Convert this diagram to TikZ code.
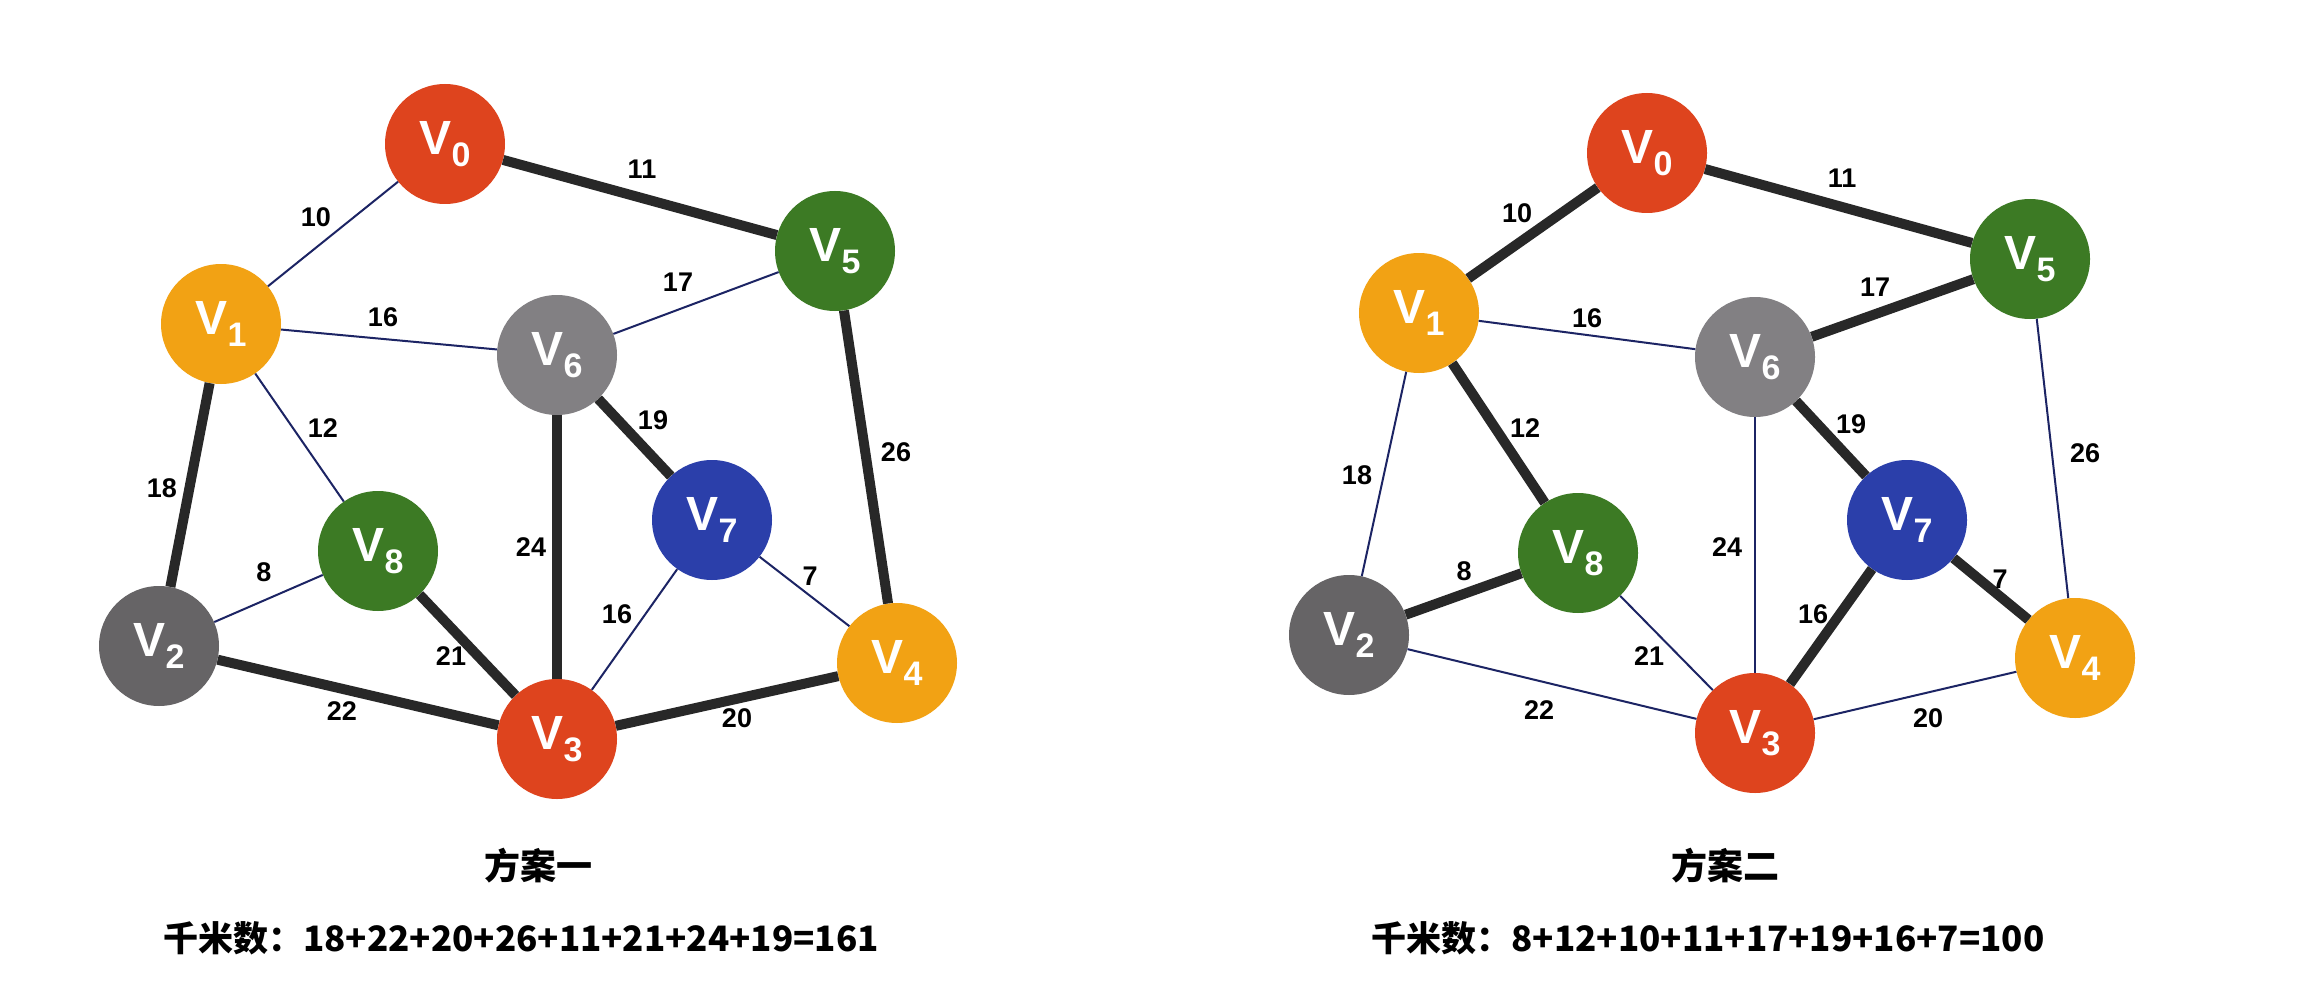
\documentclass[tikz,border=0pt]{standalone}
\usepackage{fontspec}
\setmainfont{Liberation Sans}
\newfontfamily\cjk{Noto Sans CJK SC}
\usepackage{tikz}

\definecolor{vred}{RGB}{222,68,30}
\definecolor{vorange}{RGB}{242,162,20}
\definecolor{vgreen}{RGB}{60,122,36}
\definecolor{vgray}{RGB}{130,128,131}
\definecolor{vdark}{RGB}{102,100,102}
\definecolor{vblue}{RGB}{43,63,170}
\definecolor{thinedge}{RGB}{28,36,100}
\definecolor{thickedge}{RGB}{40,40,40}

\newcommand{\vname}[1]{{\fontsize{48}{48}\selectfont V\raisebox{-12pt}{\fontsize{34}{34}\selectfont #1}}}

\tikzset{
    vertex/.style={circle, fill=#1, minimum size=120pt, inner sep=0pt, text=white, font=\bfseries},
    weight/.style={font=\bfseries\fontsize{27}{27}\selectfont},
    light/.style={draw=thinedge, line width=2pt},
    heavy/.style={draw=thickedge, line width=10pt},
    title/.style={font=\cjk\bfseries\fontsize{36}{36}\selectfont},
    sum/.style={font=\cjk\bfseries\fontsize{35}{35}\selectfont},
}

\begin{document}
\begin{tikzpicture}[x=1pt, y=-1pt]
    \useasboundingbox[fill=white] (0,0) rectangle (2313,995);

    % Scheme one
    \node[vertex=vred]    (L0) at (445,144) {\vname{0}};
    \node[vertex=vorange] (L1) at (221,324) {\vname{1}};
    \node[vertex=vdark]   (L2) at (159,646) {\vname{2}};
    \node[vertex=vred]    (L3) at (557,739) {\vname{3}};
    \node[vertex=vorange] (L4) at (897,663) {\vname{4}};
    \node[vertex=vgreen]  (L5) at (835,251) {\vname{5}};
    \node[vertex=vgray]   (L6) at (557,355) {\vname{6}};
    \node[vertex=vblue]   (L7) at (712,520) {\vname{7}};
    \node[vertex=vgreen]  (L8) at (378,551) {\vname{8}};

    \foreach \a/\b/\s in {0/1/light, 0/5/heavy, 1/6/light, 1/8/light, 1/2/heavy,
                          5/6/light, 5/4/heavy, 6/7/heavy, 6/3/heavy, 7/3/light,
                          7/4/light, 8/2/light, 8/3/heavy, 2/3/heavy, 3/4/heavy}
        \draw[\s] (L\a) -- (L\b);

    \foreach \n/\x/\y/\w in {a/316/217/10, b/642/169/11, c/383/317/16, d/678/282/17,
                             e/323/428/12, f/162/488/18, g/653/420/19, h/896/452/26,
                             i/531/547/24, j/264/572/8, k/810/576/7, l/617/614/16,
                             m/451/656/21, n/342/711/22, o/737/718/20}
        \node[weight] (Lw\n) at (\x,\y) {\w};

    \node[title] (Ltitle) at (538,866) {方案一};
    \node[sum] (Lsum) at (521,938) {千米数：18+22+20+26+11+21+24+19=161};

    % Scheme two
    \node[vertex=vred]    (R0) at (1647,153) {\vname{0}};
    \node[vertex=vorange] (R1) at (1419,313) {\vname{1}};
    \node[vertex=vdark]   (R2) at (1349,635) {\vname{2}};
    \node[vertex=vred]    (R3) at (1755,733) {\vname{3}};
    \node[vertex=vorange] (R4) at (2075,658) {\vname{4}};
    \node[vertex=vgreen]  (R5) at (2030,259) {\vname{5}};
    \node[vertex=vgray]   (R6) at (1755,357) {\vname{6}};
    \node[vertex=vblue]   (R7) at (1907,520) {\vname{7}};
    \node[vertex=vgreen]  (R8) at (1578,553) {\vname{8}};

    \foreach \a/\b/\s in {0/1/heavy, 0/5/heavy, 1/6/light, 1/8/heavy, 1/2/light,
                          5/6/heavy, 5/4/light, 6/7/heavy, 6/3/light, 7/3/heavy,
                          7/4/heavy, 8/2/heavy, 8/3/light, 2/3/light, 3/4/light}
        \draw[\s] (R\a) -- (R\b);

    \foreach \n/\x/\y/\w in {a/1517/213/10, b/1842/178/11, c/1587/318/16, d/1875/287/17,
                             e/1525/428/12, f/1357/475/18, g/1851/424/19, h/2085/453/26,
                             i/1727/547/24, j/1464/571/8, k/2000/579/7, l/1813/614/16,
                             m/1649/656/21, n/1539/710/22, o/1928/718/20}
        \node[weight] (Rw\n) at (\x,\y) {\w};

    \node[title] (Rtitle) at (1725,866) {方案二};
    \node[sum] (Rsum) at (1708,938) {千米数：8+12+10+11+17+19+16+7=100};
\end{tikzpicture}
\end{document}
